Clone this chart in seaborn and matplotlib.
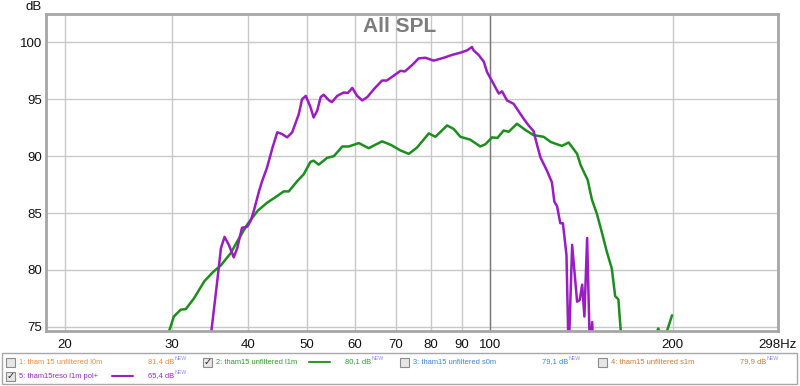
import matplotlib
matplotlib.use("Agg")
import matplotlib.pyplot as plt
import seaborn as sns
from matplotlib.patches import Rectangle
from matplotlib.lines import Line2D

# trace 2: tham15 unfiltered l1m (green)
green_freq = [29.0, 29.7, 30.2, 31.0, 31.6, 32.6, 33.9, 35.1, 36.1, 37.5, 38.4, 39.9,
              41.5, 43.0, 44.7, 45.8, 46.7, 48.2, 49.4, 50.7, 51.3, 52.3, 54.0, 55.4,
              57.2, 58.6, 60.9, 63.2, 66.5, 68.7, 70.0, 71.3, 73.6, 75.9, 79.4, 81.4,
              85.1, 87.2, 89.5, 92.9, 96.5, 98.4, 100.9, 103.0, 105.4, 107.5, 110.9,
              114.5, 118.1, 122.7, 126.0, 129.0, 131.5, 134.9, 139.3, 141.2, 145.0,
              147.3, 150.2, 153.0, 155.9, 158.9, 160.9, 162.9, 164.4, 166.0, 186.0,
              188.0, 189.5, 191.0, 193.0, 195.8, 199.6]
green_spl = [73.5, 74.7, 75.9, 76.5, 76.55, 77.5, 79.0, 79.85, 80.4, 81.5, 82.5, 84.0,
             85.2, 85.9, 86.5, 86.9, 86.9, 87.8, 88.4, 89.5, 89.6, 89.25, 89.85, 90.0,
             90.85, 90.85, 91.15, 90.7, 91.3, 91.0, 90.75, 90.5, 90.2, 90.75, 92.0, 91.7,
             92.7, 92.4, 91.7, 91.45, 90.85, 91.05, 91.65, 91.6, 92.25, 92.15, 92.85,
             92.3, 91.85, 91.7, 91.25, 91.05, 90.9, 91.2, 90.2, 89.2, 87.9,
             86.2, 84.9, 83.3, 81.6, 80.1, 77.7, 77.4, 74.55, 72.5, 72.5,
             74.4, 74.85, 74.3, 72.5, 74.6, 76.0]

# trace 5: tham15reso l1m pol+ (purple)
purple_freq = [34.6, 34.85, 35.6, 36.1, 36.6, 37.2, 37.9, 38.4, 39.1, 39.9, 40.4, 40.9,
               41.7, 42.2, 43.0, 43.9, 44.7, 45.5, 46.4, 47.3, 48.5, 49.1, 49.8, 50.7,
               51.3, 52.0, 52.7, 53.3, 54.4, 55.0, 56.1, 57.5, 58.4, 59.4, 60.5, 61.7,
               62.9, 64.5, 66.5, 67.7, 69.6, 71.3, 72.5, 74.5, 76.4, 78.4, 80.9, 84.0,
               86.7, 89.5, 91.8, 93.5, 94.1, 95.9, 97.8, 99.0, 100.9, 103.5, 104.8,
               106.8, 109.5, 111.6, 113.7, 115.9, 118.1, 119.6, 121.2, 124.3, 126.6,
               127.8, 129.1, 130.7, 132.0, 133.8, 134.9, 136.7, 139.3, 140.7, 142.0,
               143.2, 144.7, 146.2, 147.5, 148.2]
purple_spl = [73.0, 74.8, 79.0, 81.9, 82.9, 82.2, 81.1, 81.9, 83.7, 83.8, 84.3, 85.2,
              86.9, 87.8, 89.0, 90.75, 92.1, 91.95, 91.65, 92.1, 93.7, 95.0, 95.3, 94.3,
              93.4, 94.0, 95.2, 95.4, 94.9, 94.75, 95.3, 95.6, 95.55, 96.0, 95.3, 94.9,
              95.2, 95.9, 96.65, 96.65, 97.1, 97.5, 97.45, 98.0, 98.6, 98.65, 98.4, 98.65,
              98.9, 99.1, 99.3, 99.6, 99.3, 98.9, 98.3, 97.4, 96.6, 95.5, 95.7,
              94.9, 94.6, 93.95, 93.3, 92.7, 92.2, 91.05, 89.9, 88.7, 87.7,
              86.0, 85.6, 84.1, 84.1, 81.3, 72.5, 82.2, 77.2, 77.35, 78.7,
              75.9, 82.8, 73.0, 75.4, 72.0]

x_ticks = [20, 30, 40, 50, 60, 70, 80, 90, 100, 200, 298]
x_labels = ["20", "30", "40", "50", "60", "70", "80", "90", "100", "200", "298Hz"]
y_ticks = [75, 80, 85, 90, 95, 100]

legend_names = ["1: tham 15 unfiltered l0m", "2: tham15 unfiltered l1m",
                "3: tham15 unfiltered s0m", "4: tham15 unfiltered s1m",
                "5: tham15reso l1m pol+"]
legend_levels = ["81,4 dB", "80,1 dB", "79,1 dB", "79,9 dB", "65,4 dB"]
legend_colors = ["#EE8A3C", "#2A9A2A", "#3C82D2", "#C87A32", "#9A22C0"]
legend_checked = [False, True, False, False, True]

GREEN = "#1B8E1B"
PURPLE = "#9B1CC2"

sns.set_style("white")
plt.rcParams["font.family"] = ["Liberation Sans", "DejaVu Sans"]

W, H = 800, 386
fig = plt.figure(figsize=(8, 3.86), dpi=100)
ax = fig.add_axes([46 / W, 1 - 330.7 / H, (777.7 - 46) / W, (330.7 - 14) / H])

sns.lineplot(x=green_freq, y=green_spl, ax=ax, color=GREEN, lw=1.8, sort=False)
sns.lineplot(x=purple_freq, y=purple_spl, ax=ax, color=PURPLE, lw=1.8, sort=False)

ax.set_xscale("log")
ax.set_xlim(18.6, 298)
ax.set_ylim(74.65, 102.5)
ax.set_xticks(x_ticks)
ax.set_xticklabels(x_labels)
ax.minorticks_off()
ax.set_yticks(y_ticks)
ax.tick_params(axis="both", length=0, labelsize=9.5, colors="#111111")
ax.tick_params(axis="x", pad=6)
ax.tick_params(axis="y", pad=3)
ax.grid(True, color="#C8C8C8", lw=1)
ax.axvline(100, color="#7A7A7A", lw=1, zorder=1)
ax.set_axisbelow(True)
for sp in ax.spines.values():
    sp.set_color("#A6A6A6")
    sp.set_linewidth(2)

# title is centred on the whole window, not on the plot area
fig.text(0.5, 1 - 26 / H, "All SPL", ha="center", va="center",
         fontsize=15, fontweight="bold", color="#7C7C7C")
fig.text(42 / W, 1 - 7 / H, "dB", ha="right", va="center", fontsize=9.5, color="#111111")

# legend panel under the plot
fig.patches.append(Rectangle((2 / W, 1 - 384 / H), 795 / W, 31 / H, transform=fig.transFigure,
                             fill=True, facecolor="white", edgecolor="#A8A8A8", lw=1))
slot_x = [6, 203, 400, 598, 6]
slot_y = [362, 362, 362, 362, 376]
for i, name in enumerate(legend_names):
    cx, cy = slot_x[i], slot_y[i]
    fig.patches.append(Rectangle((cx / W, 1 - (cy + 4.5) / H), 9 / W, 9 / H,
                                 transform=fig.transFigure, facecolor="#E6E6E6",
                                 edgecolor="#8C8C8C", lw=0.8))
    if legend_checked[i]:
        fig.text((cx + 4.5) / W, 1 - cy / H, "\u2713", ha="center", va="center",
                 fontsize=7, color="#222222", family="DejaVu Sans", fontweight="bold")
        fig.lines.append(Line2D([(cx + 106) / W, (cx + 127) / W], [1 - cy / H, 1 - cy / H],
                                transform=fig.transFigure, color=legend_colors[i], lw=1.5))
    fig.text((cx + 13) / W, 1 - cy / H, name, ha="left", va="center",
             fontsize=5.4, color=legend_colors[i])
    fig.text((cx + 142) / W, 1 - cy / H, legend_levels[i], ha="left", va="center",
             fontsize=5.4, color=legend_colors[i])
    fig.text((cx + 169) / W, 1 - (cy - 3) / H, "NEW", ha="left", va="center",
             fontsize=3.8, color="#8C8CFF")

fig.savefig("out.png", dpi=100)
